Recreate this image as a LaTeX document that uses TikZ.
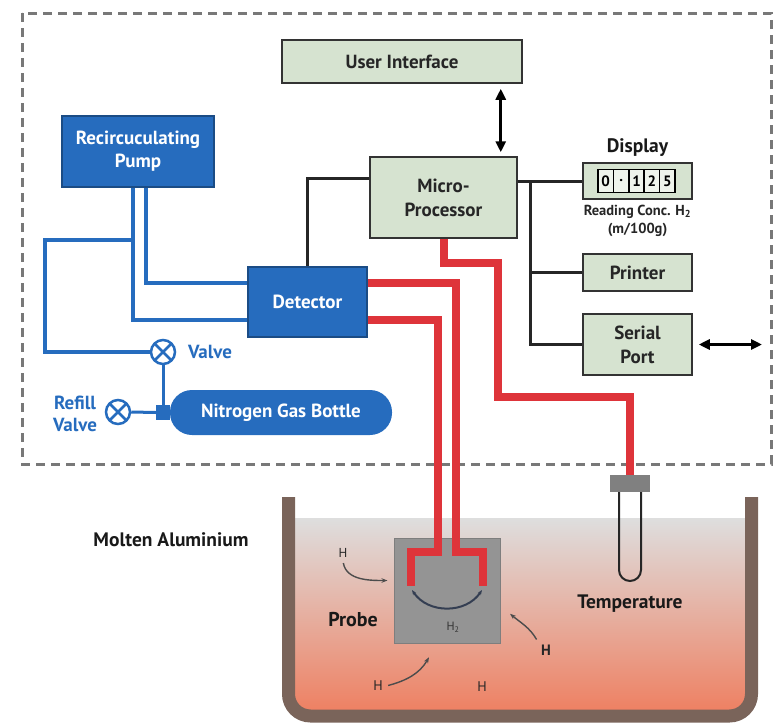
\documentclass[tikz,border=0pt]{standalone}
\usepackage{fontspec}
\setmainfont{PT Sans}
\usetikzlibrary{arrows.meta,calc}

\definecolor{pipeblue}{RGB}{38,108,190}
\definecolor{boxgreen}{RGB}{214,227,208}
\definecolor{pipered}{RGB}{222,52,58}
\definecolor{potbrown}{RGB}{122,100,90}
\definecolor{probegray}{RGB}{148,148,148}
\definecolor{framegray}{RGB}{120,120,120}
\definecolor{meltlow}{RGB}{238,128,98}
\definecolor{melttop}{RGB}{222,222,222}
\definecolor{arcslate}{RGB}{52,62,82}

\begin{document}
\begin{tikzpicture}[x=1pt,y=-1pt,
    greenbox/.style={draw=black!80,line width=1.5pt,fill=boxgreen,text=black!85,align=center,inner sep=0pt,font=\fontsize{19}{24}\selectfont\bfseries},
    bluebox/.style={draw=pipeblue!70!black,line width=1.2pt,fill=pipeblue,text=white,align=center,inner sep=0pt,font=\fontsize{19}{23}\selectfont\bfseries},
    bluepipe/.style={pipeblue,line width=4pt},
    redpipe/.style={pipered,line width=8pt},
    wire/.style={black!85,line width=3pt},
    dblarrow/.style={{Triangle[length=11pt,width=10pt]}-{Triangle[length=11pt,width=10pt]},line width=3pt},
    valvesym/.style={circle,draw=pipeblue,line width=2.5pt,minimum size=24pt,inner sep=0pt,
      path picture={\draw[pipeblue,line width=2.5pt] (path picture bounding box.north west) -- (path picture bounding box.south east)
        (path picture bounding box.north east) -- (path picture bounding box.south west);}},
    digit/.style={draw=black,line width=1.5pt,fill=boxgreen!40!white,minimum width=15.4pt,minimum height=23pt,inner sep=0pt,font=\fontsize{15}{15}\selectfont\bfseries},
    lbl/.style={font=\fontsize{19.5}{22}\selectfont\bfseries,text=black!90},
    bluelbl/.style={text=pipeblue,align=center,font=\fontsize{19}{22}\selectfont\bfseries},
    hatom/.style={text=black!85,font=\fontsize{13}{13}\selectfont},
    harrow/.style={-{Stealth[length=6pt]},black!70,line width=1.4pt,shorten >=2pt,shorten <=2pt}]
\useasboundingbox (0,0) rectangle (774,723);

% melt and pot
\fill[top color=melttop,bottom color=meltlow,middle color=melttop!50!meltlow] (295,518) rectangle (745,712);
\draw[potbrown,line width=13pt,rounded corners=22pt] (288.5,497) -- (288.5,716) -- (751.5,716) -- (751.5,497);

% instrument housing
\draw[framegray,line width=3pt,dash pattern=on 9pt off 6pt] (22,13) rectangle (771,464);

% electronics
\node[greenbox,minimum width=240pt,minimum height=43pt] (ui) at (402,61.5) {User Interface};
\node[greenbox,minimum width=147pt,minimum height=81pt] (micro) at (443.5,197.5) {Micro-\\Processor};
\node[greenbox,minimum width=109pt,minimum height=36pt] (display) at (637.5,181) {};
\foreach \d [count=\i] in {0,.,1,2,5}
  \node[digit] (dig\i) at ({590.3+15.4*\i},181) {\d};
\node[lbl] (displbl) at (637.5,148) {Display};
\node[align=center,text=black!85,font=\fontsize{14.5}{18}\selectfont\bfseries] (reading) at (637.5,221) {Reading Conc. H\textsubscript{2}\\(m/100g)};
\node[greenbox,minimum width=109pt,minimum height=37pt] (printer) at (637.5,272.5) {Printer};
\node[greenbox,minimum width=109pt,minimum height=61pt] (serial) at (637.5,344.5) {Serial\\Port};

% gas circuit
\node[bluebox,minimum width=152pt,minimum height=71pt] (pump) at (138,151.5) {Recircuculating\\Pump};
\node[bluebox,minimum width=119pt,minimum height=70pt] (detector) at (307.5,302) {Detector};
\node[fill=pipeblue,rounded corners=22pt,minimum width=222pt,minimum height=45pt,text=white,font=\fontsize{19}{22}\selectfont\bfseries] (bottle) at (281,412.5) {Nitrogen Gas Bottle};
\node[fill=pipeblue,minimum width=14pt,minimum height=15pt,inner sep=0pt] (neck) at (163,412.5) {};
\node[valvesym] (valve) at (163,352) {};
\node[valvesym] (refill) at (118,412) {};
\node[bluelbl] (valvelbl) at (210,352) {Valve};
\node[bluelbl] (refilllbl) at (75,414) {Refill\\Valve};

\draw[bluepipe] ([xshift=8pt]pump.south) |- ([yshift=19pt]detector.west);
\draw[bluepipe] ([xshift=-5pt]pump.south) |- ([yshift=-18pt]detector.west);
\coordinate (tee) at (133,240);
\draw[bluepipe] (tee) -| (45,352) -- (valve.west);
\draw[bluepipe,line width=3pt] (valve.south) -- (neck.north);
\draw[bluepipe,line width=3pt] (refill.east) -- (neck.west);

% wiring
\draw[wire] ([yshift=19pt]micro.west) -| (detector.north);
\draw[wire] (micro.east |- display.west) -- (display.west);
\coordinate (bus) at (530,181);
\draw[wire] (bus) |- (serial.west);
\draw[wire] (bus |- printer.west) -- (printer.west);
\coordinate (uiport) at ([xshift=-22pt]ui.south east);
\draw[dblarrow,shorten <=5pt,shorten >=4pt] (uiport) -- (uiport |- micro.north);
\coordinate (ext) at (762,344.5);
\draw[dblarrow,shorten <=6pt] (serial.east) -- (ext);

% probe and thermocouple
\node[fill=probegray,draw=probegray!85!black,line width=1pt,minimum width=106pt,minimum height=105pt] (probe) at (447,590.5) {};
\node[fill=black!50,minimum width=40pt,minimum height=17pt,inner sep=0pt] (cap) at (630,483.5) {};
\draw[black!85,line width=2pt,rounded corners=11pt] (619,492) -- (619,581) -- (641,581) -- (641,492);

\draw[redpipe] ([yshift=19pt]detector.east) -| (456,552) -| (483,586);
\draw[redpipe] ([yshift=-18pt]detector.east) -| (438,552) -| (411,586);
\draw[redpipe] (micro.south) |- (498,263) |- (630,397) -- (cap.north);
\draw[{Stealth[length=5pt]}-{Stealth[length=5pt]},arcslate,line width=2pt] (412,590) .. controls (428,614) and (466,614) .. (482,590);
\node[font=\fontsize{12}{12}\selectfont,text=black!80] (h2) at (453,627) {H\textsubscript{2}};

% labels in the melt
\node[lbl] (molten) at (171,540) {Molten Aluminium};
\node[lbl,font=\fontsize{20}{22}\selectfont\bfseries] (probelbl) at (353,620) {Probe};
\node[lbl] (templbl) at (630,604) {Temperature};
\node[hatom] (hA) at (343,553) {H};
\node[hatom,font=\fontsize{15}{15}\selectfont\bfseries] (hB) at (546,650) {H};
\node[hatom,font=\fontsize{14}{14}\selectfont] (hC) at (378,686) {H};
\node[hatom,font=\fontsize{14}{14}\selectfont] (hD) at (482,687) {H};
\draw[harrow] (hA.south) to[out=-80,in=180] ([xshift=-4pt,yshift=10pt]probe.west);
\draw[harrow] (hB.north west) to[out=120,in=-40] ([xshift=8pt,yshift=-22pt]probe.east);
\draw[harrow] (hC.east) to[out=15,in=-120] ([xshift=-17pt,yshift=-12pt]probe.south);
\end{tikzpicture}
\end{document}
